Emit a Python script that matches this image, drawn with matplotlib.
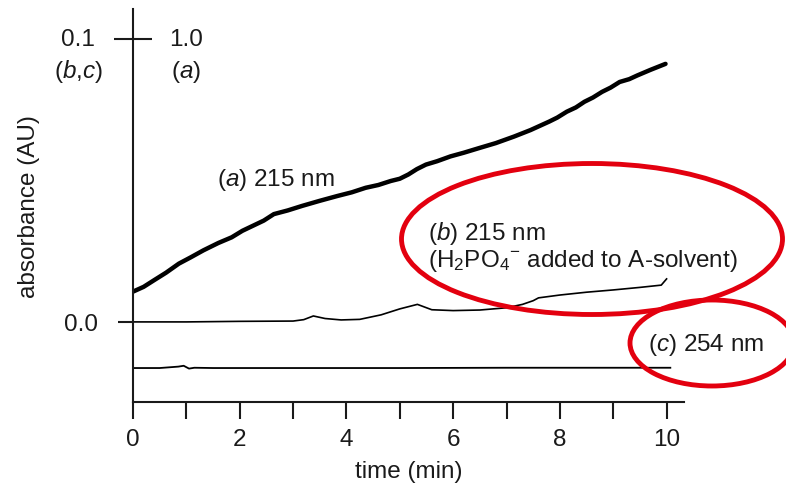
import numpy as np
import matplotlib
matplotlib.use("Agg")
import matplotlib.pyplot as plt
from matplotlib.patches import Ellipse

plt.rcParams['font.family'] = ['Liberation Sans', 'DejaVu Sans']
plt.rcParams['mathtext.fontset'] = 'custom'
plt.rcParams['mathtext.rm'] = 'Liberation Sans'
plt.rcParams['mathtext.it'] = 'Liberation Sans:italic'

# (a) 215 nm, read on the 1.0 AU scale
t_a = [0.0, 0.20, 0.40, 0.62, 0.86, 1.08, 1.32, 1.60, 1.85, 2.05, 2.25, 2.45,
       2.64, 2.90, 3.17, 3.50, 3.83, 4.10, 4.36, 4.60, 4.83, 5.00, 5.16, 5.32,
       5.49, 5.70, 5.95, 6.20, 6.48, 6.80, 7.14, 7.45, 7.80, 7.95, 8.13, 8.30,
       8.46, 8.62, 8.79, 8.95, 9.12, 9.30, 9.45, 9.70, 9.98]
abs_a = [0.107, 0.124, 0.148, 0.174, 0.206, 0.228, 0.253, 0.279, 0.299, 0.322,
         0.340, 0.358, 0.381, 0.394, 0.410, 0.428, 0.445, 0.458, 0.474, 0.484,
         0.498, 0.506, 0.521, 0.540, 0.556, 0.568, 0.585, 0.598, 0.614, 0.632,
         0.655, 0.678, 0.708, 0.722, 0.743, 0.758, 0.778, 0.793, 0.813, 0.828,
         0.848, 0.858, 0.871, 0.891, 0.912]

# (b) 215 nm with H2PO4- added, 0.1 AU scale
t_b = [0.0, 1.0, 2.0, 3.0, 3.2, 3.38, 3.6, 3.9, 4.25, 4.65, 5.0, 5.33, 5.6,
       6.0, 6.5, 7.0, 7.3, 7.5, 7.6, 8.0, 8.5, 9.0, 9.5, 9.9, 10.0]
abs_b = [0.0, 0.0, 0.0002, 0.0003, 0.0008, 0.0021, 0.0012, 0.0007, 0.0009,
         0.0025, 0.0046, 0.0062, 0.0043, 0.0040, 0.0042, 0.0050, 0.0062,
         0.0075, 0.0085, 0.0095, 0.0105, 0.0113, 0.0122, 0.0130, 0.0152]

# (c) 254 nm, 0.1 AU scale
t_c = [0.0, 0.5, 0.85, 0.95, 1.05, 1.15, 1.5, 3.0, 5.0, 7.0, 8.5, 10.07]
abs_c = [-0.0163, -0.0163, -0.0158, -0.0155, -0.0165, -0.0162, -0.0163,
         -0.0163, -0.0163, -0.0162, -0.0162, -0.0162]

x_major = [0, 2, 4, 6, 8, 10]
x_minor = [1, 3, 5, 7, 9]

ink = '#1a1a1a'
fs = 17.5

fig = plt.figure(figsize=(7.86, 4.89), dpi=100)
ax = fig.add_axes([0.1692, 0.1759, 0.7006, 0.8037])

# curve (a) lives on a 10x scale, so bring it onto the (b,c) axis
ax.plot(t_a, np.array(abs_a) * 0.1, color='black', lw=3.2,
        solid_capstyle='round', solid_joinstyle='round')
ax.plot(t_b, abs_b, color='black', lw=1.2)
ax.plot(t_c, abs_c, color='black', lw=1.3)

ax.set_xlim(0, 10.32)
ax.set_ylim(-0.0283, 0.1106)

for s in ['top', 'right']:
    ax.spines[s].set_visible(False)
for s in ['left', 'bottom']:
    ax.spines[s].set_linewidth(1.5)
    ax.spines[s].set_color(ink)

ax.set_xticks(x_major)
ax.set_xticks(x_minor, minor=True)
ax.tick_params(axis='x', which='both', direction='out', length=12, width=1.5,
               color=ink, labelsize=fs, labelcolor=ink, pad=7)

ax.set_yticks([0.0])
ax.set_yticklabels(['0.0'])
ax.set_yticks([0.1], minor=True)
ax.set_yticklabels([''], minor=True)
ax.tick_params(axis='y', which='major', direction='out', length=11, width=1.5,
               color=ink, labelsize=fs, labelcolor=ink, pad=14)
ax.tick_params(axis='y', which='minor', direction='inout', length=27, width=1.5,
               color=ink)

ax.set_xlabel('time (min)', fontsize=fs, color=ink, labelpad=7)
ax.set_ylabel('absorbance (AU)', fontsize=fs, color=ink)
ax.yaxis.set_label_coords(-0.168, 0.5)

# double scale labels at the 0.1 / 1.0 tick
ax.annotate('0.1', xy=(0, 0.1), xytext=(-55, 0), textcoords='offset pixels',
            ha='center', va='center', fontsize=fs, color=ink)
ax.annotate(r'($\mathit{b}$,$\mathit{c}$)', xy=(0, 0.1), xytext=(-55, -32),
            textcoords='offset pixels', ha='center', va='center', fontsize=fs, color=ink)
ax.annotate('1.0', xy=(0, 0.1), xytext=(53, 0), textcoords='offset pixels',
            ha='center', va='center', fontsize=fs, color=ink)
ax.annotate(r'($\mathit{a}$)', xy=(0, 0.1), xytext=(53, -32),
            textcoords='offset pixels', ha='center', va='center', fontsize=fs, color=ink)

ax.text(1.58, 0.0505, r'($\mathit{a}$) 215 nm', fontsize=fs, color=ink, va='center')
ax.text(5.52, 0.0268,
        '($\\mathit{b}$) 215 nm\n(H$_2$PO$_4{}^{-}$ added to A-solvent)',
        fontsize=fs, color=ink, va='center', linespacing=1.05)
ax.text(9.66, -0.0078, r'($\mathit{c}$) 254 nm', fontsize=fs, color=ink, va='center')

# red hand-drawn style circles
W, H = 786, 489
red = '#e3000f'
fig.patches.append(Ellipse((592 / W, 1 - 240 / H), 381 / W, 151 / H,
                           transform=fig.transFigure, fill=False,
                           edgecolor=red, lw=3.5, zorder=10))
fig.patches.append(Ellipse((712 / W, 1 - 344 / H), 164 / W, 86 / H,
                           transform=fig.transFigure, fill=False,
                           edgecolor=red, lw=3.5, zorder=10))

fig.savefig('out.png', dpi=100)
